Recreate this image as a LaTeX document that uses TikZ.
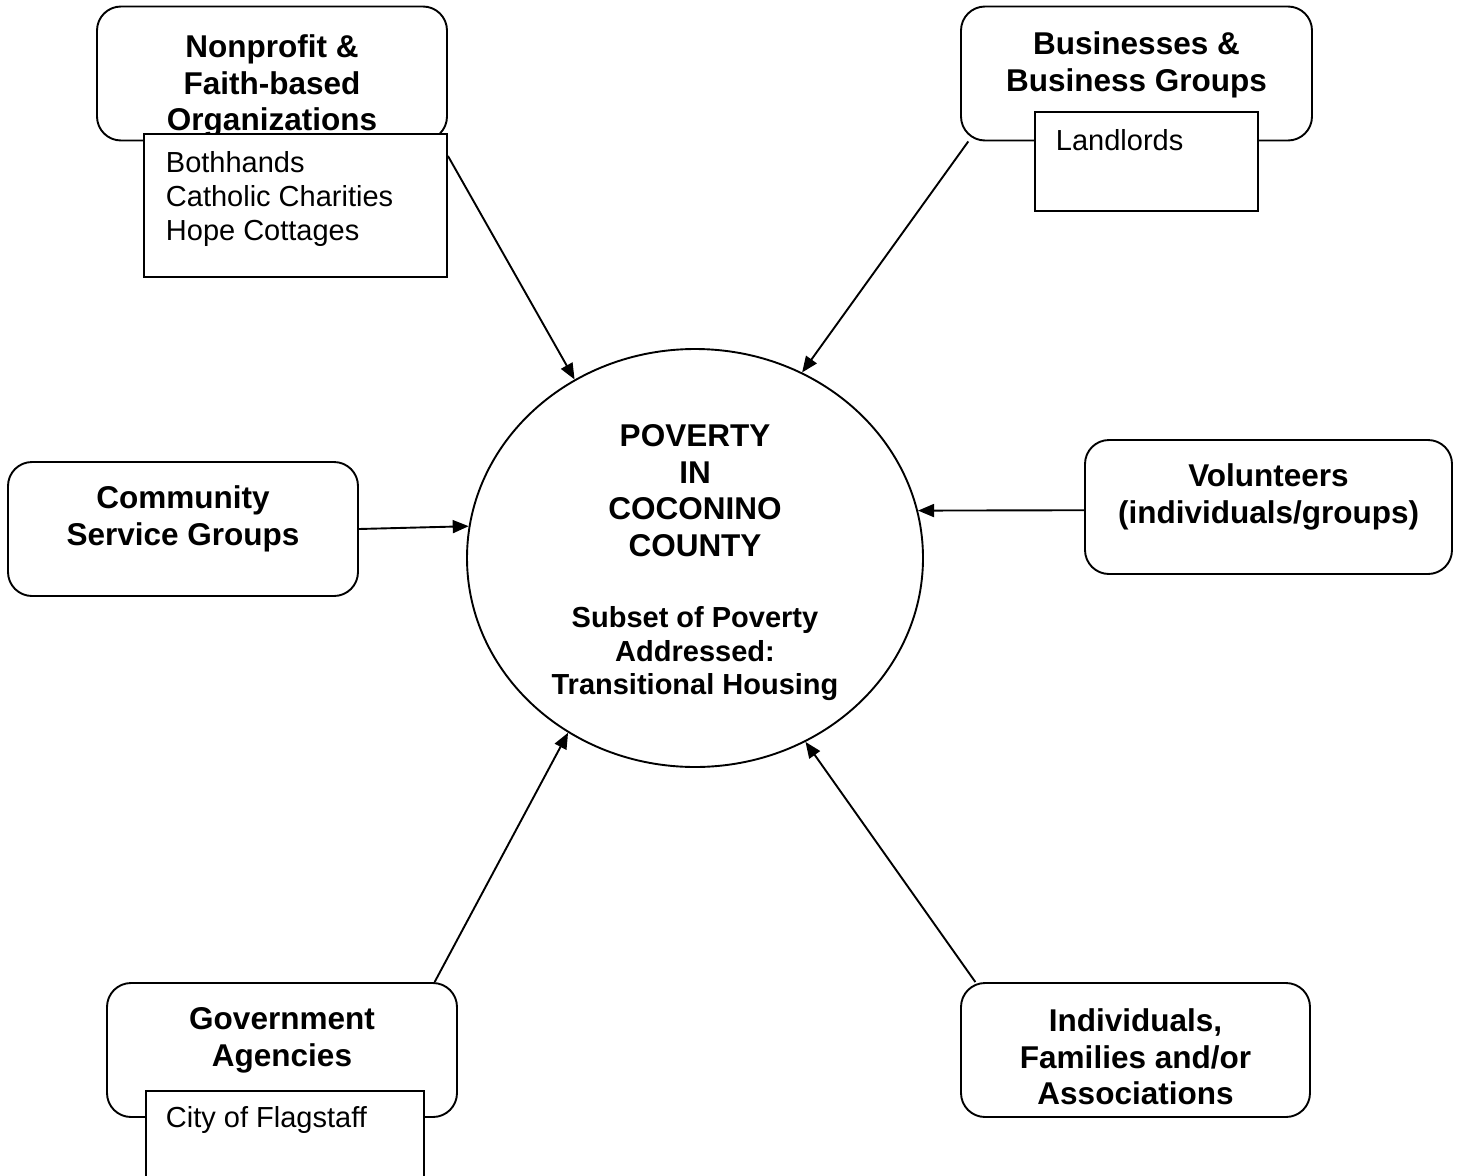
\documentclass[tikz,border=0pt]{standalone}
\usepackage{fontspec}
\setmainfont{Liberation Sans}
\usetikzlibrary{shapes.geometric,arrows.meta,positioning}

\begin{document}
\begin{tikzpicture}[x=1pt,y=-1pt,line width=1.9pt,
    grpbox/.style={draw,rounded corners=24pt,minimum height=134pt,inner sep=0pt},
    listbox/.style={draw,fill=white,inner sep=0pt},
    head/.style={anchor=north,align=center,inner sep=0pt,
        font=\bfseries\fontsize{31.5}{36.5}\selectfont},
    subhead/.style={anchor=north,align=center,inner sep=0pt,
        font=\bfseries\fontsize{29}{33.5}\selectfont},
    items/.style={anchor=north west,align=left,inner sep=0pt,
        font=\fontsize{29}{34}\selectfont},
    feed/.style={-{Triangle[length=16pt,width=13pt]},line width=1.9pt}]

% page size, in pixels of the sketch
\useasboundingbox (0,0) rectangle (1461,1175);

% Center: the poverty ellipse.
\node (pov) [draw,ellipse,minimum width=456pt,minimum height=418pt,
    inner sep=0pt] at (695,558) {};
\node (povtxt) [head] at (695,424) {POVERTY\\IN\\COCONINO\\COUNTY};
\node (povsub) [subhead] at (695,606)
    {Subset of Poverty\\Addressed:\\Transitional Housing};

% Nonprofit box with its list.
\node (npbox) [grpbox,minimum width=350pt] at (272,73.5) {};
\node (nptxt) [head] at (272,34) {Nonprofit \&\\Faith-based\\Organizations};
\node (nplist) [listbox,minimum width=303pt,minimum height=143pt]
    at (295.5,205.5) {};
\node (npitems) [items] at (165,151)
    {Bothhands\\Catholic Charities\\Hope Cottages};

% Business box with its list.
\node (busbox) [grpbox,minimum width=351pt] at (1136.5,73.5) {};
\node (bustxt) [head] at (1136.5,31) {Businesses \&\\Business Groups};
\node (buslist) [listbox,minimum width=223pt,minimum height=99pt]
    at (1146.5,161.5) {};
\node (busitems) [items] at (1055,129) {Landlords};

% Community service groups.
\node (combox) [grpbox,minimum width=350pt] at (183,529) {};
\node (comtxt) [head] at (183,485) {Community\\Service Groups};

% Volunteers.
\node (volbox) [grpbox,minimum width=367pt] at (1268.5,507) {};
\node (voltxt) [head] at (1268.5,463) {Volunteers\\(individuals/groups)};

% Government box with its list (runs off the page).
\node (govbox) [grpbox,minimum width=350pt] at (282,1050) {};
\node (govtxt) [head] at (282,1007) {Government\\Agencies};
\node (govlist) [listbox,minimum width=278pt,minimum height=110pt]
    at (285,1146) {};
\node (govitems) [items] at (165,1106) {City of Flagstaff};

% Individuals and families.
\node (indbox) [grpbox,minimum width=349pt] at (1135.5,1050) {};
\node (indtxt) [head] at (1135.5,1008)
    {Individuals,\\Families and/or\\Associations};

% Arrows into the ellipse.
\draw[feed] (nplist.18) -- (pov.124.5);
\draw[feed] (busbox.202) -- (pov.60.3);
\draw[feed] (combox.east) -- (pov.172.5);
\draw[feed] (volbox.181.6) -- (pov.12.2);
\draw[feed] (govbox.24) -- (pov.234.6);
\draw[feed] (indbox.157.6) -- (pov.301.2);

\end{tikzpicture}
\end{document}
